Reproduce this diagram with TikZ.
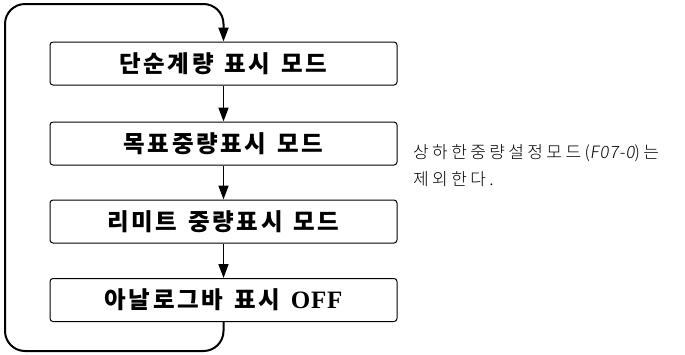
\documentclass[tikz,border=0pt]{standalone}
\usepackage{fontspec}
\usetikzlibrary{arrows.meta}
\newfontfamily\kb{Noto Sans CJK KR Black}[LetterSpace=11]
\newfontfamily\kl{Noto Sans CJK KR Light}[LetterSpace=20]
\newfontfamily\ksl{Noto Sans CJK KR Light}[LetterSpace=4,FakeSlant=0.15]
\newfontfamily\offf{Liberation Serif}[LetterSpace=3]
\newcommand{\wsp}{\hspace{11pt}}
\tikzset{
  modebox/.style={draw=black, line width=1pt, rounded corners=3pt, minimum width=347pt, minimum height=43pt, inner sep=0pt, font=\kb\fontsize{23.5pt}{26pt}\selectfont},
  flow/.style={line width=1.6pt, -{Triangle[length=14pt,width=10pt]}},
  loopline/.style={line width=2pt, rounded corners=20pt, -{Triangle[length=14pt,width=10pt]}},
  note/.style={anchor=west, inner sep=0pt, font=\kl\fontsize{17pt}{24pt}\selectfont, align=left}
}
\begin{document}
\begin{tikzpicture}[x=1pt,y=-1pt]
\useasboundingbox (0,0) rectangle (685,354);
\node[modebox] (b1) at (223.5,63.5) {단순계량\wsp 표시\wsp 모드};
\node[modebox] (b2) at (223.5,143.5) {목표중량표시\wsp 모드};
\node[modebox] (b3) at (223.5,221.5) {리미트\wsp 중량표시\wsp 모드};
\node[modebox] (b4) at (223.5,300) {아날로그바\wsp 표시\wsp {\offf\bfseries\fontsize{25pt}{26pt}\selectfont OFF}};
\draw[flow] (b1.south) -- (b2.north);
\draw[flow] (b2.south) -- (b3.north);
\draw[flow] (b3.south) -- (b4.north);
\coordinate (c1) at (223.5,351);
\coordinate (c2) at (5,351);
\coordinate (c3) at (5,4);
\coordinate (c4) at (223.5,4);
\draw[loopline] (b4.south) -- (c1) -- (c2) -- (c3) -- (c4) -- (b1.north);
\node[note] (n1) at (413,153) {상하한중량설정모드({\ksl F07-0})는};
\node[note] (n2) at (413,179) {제외한다.};
\end{tikzpicture}
\end{document}
